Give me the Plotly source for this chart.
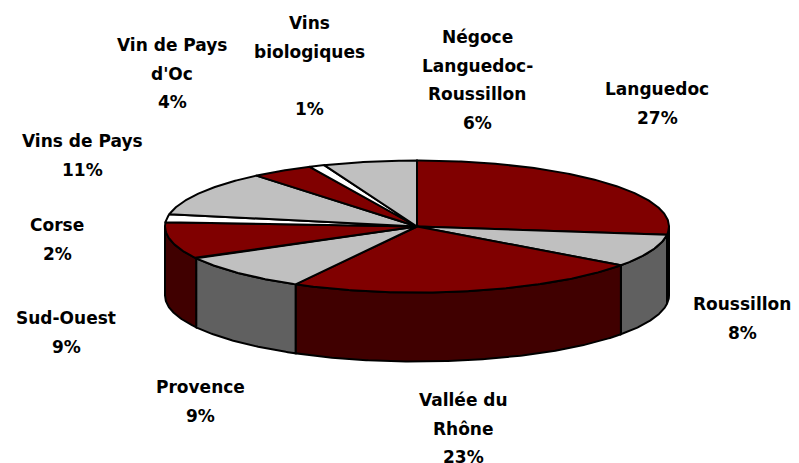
import numpy as np
import plotly.graph_objects as go

labels = ["Languedoc", "Roussillon", "Vallée du Rhône", "Provence", "Sud-Ouest", "Corse",
          "Vins de Pays", "Vin de Pays d'Oc", "Vins biologiques", "Négoce Languedoc-Roussillon"]
values = [27, 8, 23, 9, 9, 2, 11, 4, 1, 6]

TOP = ["#800000", "#C0C0C0", "#800000", "#C0C0C0", "#800000", "#FFFFFF", "#C0C0C0", "#800000", "#FFFFFF", "#C0C0C0"]
SIDE = ["#400000", "#606060", "#400000", "#606060", "#400000", "#7F7F7F", "#606060", "#400000", "#7F7F7F", "#606060"]

# label layout: one entry per slice; text lines, x centre, y of each line
label_lines = [["Languedoc"], ["Roussillon"], ["Vallée du", "Rhône"], ["Provence"], ["Sud-Ouest"], ["Corse"],
               ["Vins de Pays"], ["Vin de Pays", "d'Oc"], ["Vins", "biologiques", ""], ["Négoce", "Languedoc-", "Roussillon"]]
label_x = [657, 742, 463, 200, 66, 57, 82, 172, 309, 477]
label_y0 = [89, 304, 400, 387, 318, 225, 141, 45, 23, 37]
LINE_H = 28.5

CX, CY, RX, RY, DEPTH = 417, 226.5, 252, 66, 69


def arc(a0, a1):
    t = np.radians(np.linspace(a0, a1, max(int(abs(a1 - a0) * 2), 2)))
    return CX + RX * np.sin(t), CY - RY * np.cos(t)


fig = go.Figure()
edges = np.concatenate([[0], np.cumsum(values)]) * 3.6
line = dict(color="black", width=2)

for i in range(len(values)):
    a0, a1 = max(edges[i], 90), min(edges[i + 1], 270)
    if a1 > a0:
        x, y = arc(a0, a1)
        fig.add_trace(go.Scatter(
            x=np.concatenate([x, x[::-1], x[:1]]),
            y=np.concatenate([y, y[::-1] + DEPTH, y[:1]]),
            mode="lines", fill="toself", fillcolor=SIDE[i], line=line,
            hoverinfo="skip", showlegend=False))

for i in range(len(values)):
    x, y = arc(edges[i], edges[i + 1])
    fig.add_trace(go.Scatter(
        x=np.concatenate([[CX], x, [CX]]),
        y=np.concatenate([[CY], y, [CY]]),
        mode="lines", fill="toself", fillcolor=TOP[i], line=line,
        name=labels[i], text=f"{values[i]}%", hoverinfo="name+text", showlegend=False))

annotations = []
for i, lines in enumerate(label_lines):
    for j, t in enumerate(lines + [f"{values[i]}%"]):
        if t:
            annotations.append(dict(
                x=label_x[i], y=label_y0[i] + j * LINE_H, text=t, showarrow=False,
                xanchor="center", yanchor="middle", xref="x", yref="y",
                font=dict(family="DejaVu Sans", size=17, color="black", weight="bold")))

fig.update_layout(
    width=799, height=463, margin=dict(l=0, r=0, t=0, b=0),
    paper_bgcolor="white", plot_bgcolor="white", showlegend=False,
    xaxis=dict(range=[0, 799], visible=False, fixedrange=True),
    yaxis=dict(range=[463, 0], visible=False, fixedrange=True),
    annotations=annotations)
fig.write_html("out.html", config={"displayModeBar": False},
               post_script="document.body.style.margin='0';document.body.style.overflow='hidden';")
